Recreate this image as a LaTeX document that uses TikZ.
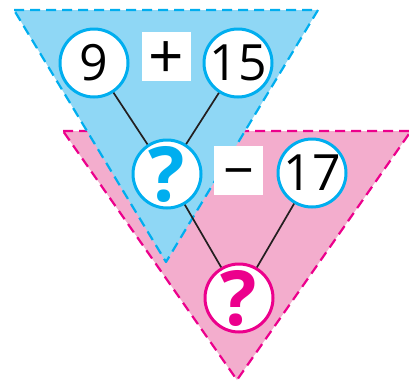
\documentclass[tikz,border=0pt]{standalone}
\usepackage{fontspec}
\setmainfont{Open Sans}
\begin{document}
\begin{tikzpicture}[x=1pt, y=-1pt, line join=round,
    numnode/.style={circle, draw=circcyan, fill=white, line width=3pt,
        minimum size=68pt, inner sep=0pt, font=\fontsize{50}{50}\selectfont},
    asknode/.style={numnode, font=\fontsize{76}{76}\selectfont\bfseries},
    opbox/.style={fill=white, minimum size=49pt, inner sep=0pt,
        text height=0pt, text depth=0pt, font=\fontsize{62}{62}\selectfont},
    link/.style={linegray, line width=1.7pt},
    dashedge/.style={line width=2.2pt, dash pattern=on 10pt off 6pt}]

    % --- Colors ---
    \definecolor{bluefill}{RGB}{143, 215, 245}
    \definecolor{circcyan}{RGB}{0, 174, 239}
    \definecolor{pinkfill}{RGB}{243, 173, 205}
    \definecolor{pinkdash}{RGB}{236, 0, 140}
    \definecolor{linegray}{RGB}{35, 31, 32}

    \useasboundingbox (0,0) rectangle (409,383);
    \clip (0,0) rectangle (409,383);

    % --- Triangle corners ---
    \coordinate (b1) at (14, 10);
    \coordinate (b2) at (318, 10);
    \coordinate (b3) at (166, 262);

    \coordinate (p1) at (63, 131);
    \coordinate (p2) at (411, 131);
    \coordinate (p3) at (237, 380);

    % --- 1. Triangles (blue over pink) ---
    \filldraw[fill=pinkfill, draw=pinkdash, dashedge] (p1) -- (p2) -- (p3) -- cycle;
    \filldraw[fill=bluefill, draw=circcyan, dashedge] (b1) -- (b2) -- (b3) -- cycle;

    % --- 2. Number circles ---
    \node[numnode] (nine) at (94, 63) {9};
    \node[numnode] (fifteen) at (238, 63) {15};
    \node[asknode, text=circcyan] (sumq) at (167, 174) {?};
    \node[numnode] (seventeen) at (312, 173) {17};
    \node[asknode, draw=pinkdash, text=pinkdash] (diffq) at (239, 298) {?};

    % --- 3. Operation boxes ---
    \node[opbox] (plus) at (166.5, 56.5) {\raisebox{-0.36em}{+}};
    \node[opbox, font=\fontsize{54}{54}\selectfont] (minus) at (238.5, 170.5) {\raisebox{-0.36em}{\char"2212}};

    % --- 4. Links ---
    \foreach \u/\v in {nine/sumq, fifteen/sumq, sumq/diffq, seventeen/diffq} {
        \draw[link] (\u) -- (\v);
    }

\end{tikzpicture}
\end{document}
